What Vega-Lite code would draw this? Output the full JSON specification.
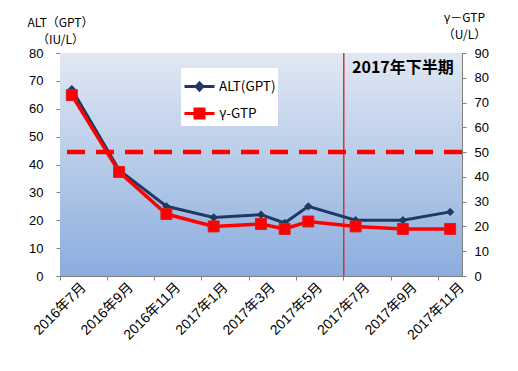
{
  "$schema": "https://vega.github.io/schema/vega-lite/v6.json",
  "width": 402,
  "height": 223,
  "autosize": "none",
  "padding": {"left": 60, "top": 53, "right": 56, "bottom": 95},
  "background": "white",
  "config": {
    "view": {"stroke": "#7f7f7f", "strokeWidth": 1},
    "axis": {
      "labelFont": "Liberation Sans, Noto Sans CJK JP",
      "labelFontSize": 13,
      "labelColor": "#000000",
      "titleFont": "Noto Sans CJK JP",
      "titleFontSize": 12,
      "titleFontWeight": "normal",
      "titleColor": "#000000",
      "domainColor": "#808080",
      "tickColor": "#808080",
      "tickSize": 4,
      "grid": false
    }
  },
  "datasets": {
    "lab": [
      {"month": "2016年7月", "alt": 67, "gtp": 73},
      {"month": "2016年9月", "alt": 38, "gtp": 42},
      {"month": "2016年11月", "alt": 25, "gtp": 25},
      {"month": "2017年1月", "alt": 21, "gtp": 20},
      {"month": "2017年3月", "alt": 22, "gtp": 21},
      {"month": "2017年4月", "alt": 19, "gtp": 19},
      {"month": "2017年5月", "alt": 25, "gtp": 22},
      {"month": "2017年7月", "alt": 20, "gtp": 20},
      {"month": "2017年9月", "alt": 20, "gtp": 19},
      {"month": "2017年11月", "alt": 23, "gtp": 19}
    ]
  },
  "layer": [
    {
      "data": {"values": [{"bg": 1}]},
      "mark": {"type": "rect", "fill": {"gradient": "linear", "x1": 0, "y1": 0, "x2": 0, "y2": 1,
        "stops": [{"offset": 0, "color": "#e1e8f3"}, {"offset": 1, "color": "#8badde"}]}},
      "encoding": {}
    },
    {
      "data": {"values": [{"month": "2017年7月"}]},
      "mark": {"type": "rule", "color": "#c63a36", "strokeWidth": 1.5},
      "encoding": {
        "x": {
          "field": "month", "type": "ordinal", "bandPosition": 0,
          "scale": {"type": "band", "paddingInner": 0, "paddingOuter": 0,
            "domain": ["2016年7月","2016年8月","2016年9月","2016年10月","2016年11月","2016年12月","2017年1月","2017年2月","2017年3月","2017年4月","2017年5月","2017年6月","2017年7月","2017年8月","2017年9月","2017年10月","2017年11月"]},
          "axis": {
            "title": null,
            "values": ["2016年7月","2016年9月","2016年11月","2017年1月","2017年3月","2017年5月","2017年7月","2017年9月","2017年11月"],
            "bandPosition": 0,
            "labelOffset": 12,
            "labelAngle": -45,
            "labelAlign": "right",
            "labelBaseline": "middle",
            "labelFontSize": 14,
            "labelPadding": 5
          }
        }
      }
    },
    {
      "data": {"values": [{"month": "2017年9月", "alt": 74.5, "label": "2017年下半期"}]},
      "mark": {"type": "text", "font": "Noto Sans CJK JP", "fontWeight": "bold", "fontSize": 16, "color": "#000000", "baseline": "middle", "align": "center"},
      "encoding": {
        "x": {"field": "month", "type": "ordinal"},
        "y": {"field": "alt", "type": "quantitative", "scale": {"domain": [0, 80], "nice": false}, "axis": null},
        "text": {"field": "label"}
      }
    },
    {
      "data": {"values": [{"series": "ALT(GPT)"}, {"series": "γ-GTP"}]},
      "transform": [{"filter": "datum.series == 'legend-only'"}],
      "mark": {"type": "point", "filled": true, "strokeWidth": 3, "opacity": 1},
      "encoding": {
        "fill": {"field": "series", "type": "nominal",
          "scale": {"domain": ["ALT(GPT)", "γ-GTP"], "range": ["#1f3864", "#ff0000"]},
          "legend": {"orient": "none", "legendX": 121, "legendY": 15, "title": null, "fillColor": "white", "padding": 2, "symbolSize": 900, "symbolStrokeWidth": 3, "symbolOpacity": 1, "labelFontSize": 13.5, "labelFont": "Noto Sans CJK JP", "labelColor": "#000000", "labelOffset": 3, "rowPadding": 0, "labelLimit": 200}},
        "stroke": {"field": "series", "type": "nominal",
          "scale": {"domain": ["ALT(GPT)", "γ-GTP"], "range": ["#1f3864", "#ff0000"]},
          "legend": {"orient": "none", "legendX": 121, "legendY": 15, "title": null, "fillColor": "white", "padding": 2, "symbolSize": 900, "symbolStrokeWidth": 3, "symbolOpacity": 1, "labelFontSize": 13.5, "labelFont": "Noto Sans CJK JP", "labelColor": "#000000", "labelOffset": 3, "rowPadding": 0, "labelLimit": 200}},
        "shape": {"field": "series", "type": "nominal",
          "scale": {"domain": ["ALT(GPT)", "γ-GTP"], "range": ["M-1,0H1M0,-0.24L0.22,0L0,0.24L-0.22,0Z", "M-1,0H1M-0.3,-0.3H0.3V0.3H-0.3Z"]},
          "legend": {"orient": "none", "legendX": 121, "legendY": 15, "title": null, "fillColor": "white", "padding": 2, "symbolSize": 900, "symbolStrokeWidth": 3, "symbolOpacity": 1, "labelFontSize": 13.5, "labelFont": "Noto Sans CJK JP", "labelColor": "#000000", "labelOffset": 3, "rowPadding": 0, "labelLimit": 200}}
      }
    },
    {
      "data": {"name": "lab"},
      "mark": {"type": "line", "color": "#1f3864", "strokeWidth": 3,
        "point": {"shape": "diamond", "filled": true, "color": "#1f3864", "size": 70, "opacity": 1}},
      "encoding": {
        "x": {"field": "month", "type": "ordinal"},
        "y": {
          "field": "alt", "type": "quantitative",
          "scale": {"domain": [0, 80], "nice": false},
          "axis": {
            "orient": "left",
            "values": [0, 10, 20, 30, 40, 50, 60, 70, 80],
            "labelPadding": 13,
            "title": ["ALT（GPT）", "（IU/L）"],
            "titleAngle": 0,
            "titleAlign": "center",
            "titleBaseline": "alphabetic",
            "titleX": 0,
            "titleY": -27,
            "titleLineHeight": 17
          }
        }
      }
    },
    {
      "data": {"values": [{"gtp": 50}]},
      "mark": {"type": "rule", "color": "#ff0000", "strokeWidth": 4.5, "strokeDash": [18, 11]},
      "encoding": {
        "y": {"field": "gtp", "type": "quantitative", "scale": {"domain": [0, 90], "nice": false}, "axis": null}
      }
    },
    {
      "data": {"name": "lab"},
      "mark": {"type": "line", "color": "#ff0000", "strokeWidth": 3.5,
        "point": {"shape": "square", "filled": true, "color": "#ff0000", "size": 120, "opacity": 1, "stroke": "#d42020", "strokeWidth": 1}},
      "encoding": {
        "x": {"field": "month", "type": "ordinal"},
        "y": {
          "field": "gtp", "type": "quantitative",
          "scale": {"domain": [0, 90], "nice": false},
          "axis": {
            "orient": "right",
            "values": [0, 10, 20, 30, 40, 50, 60, 70, 80, 90],
            "labelPadding": 8,
            "title": ["γ－GTP", "（U/L）"],
            "titleAngle": 0,
            "titleAlign": "center",
            "titleBaseline": "alphabetic",
            "titleX": 2,
            "titleY": -32,
            "titleLineHeight": 17
          }
        }
      }
    }
  ],
  "resolve": {"scale": {"y": "independent"}}
}
